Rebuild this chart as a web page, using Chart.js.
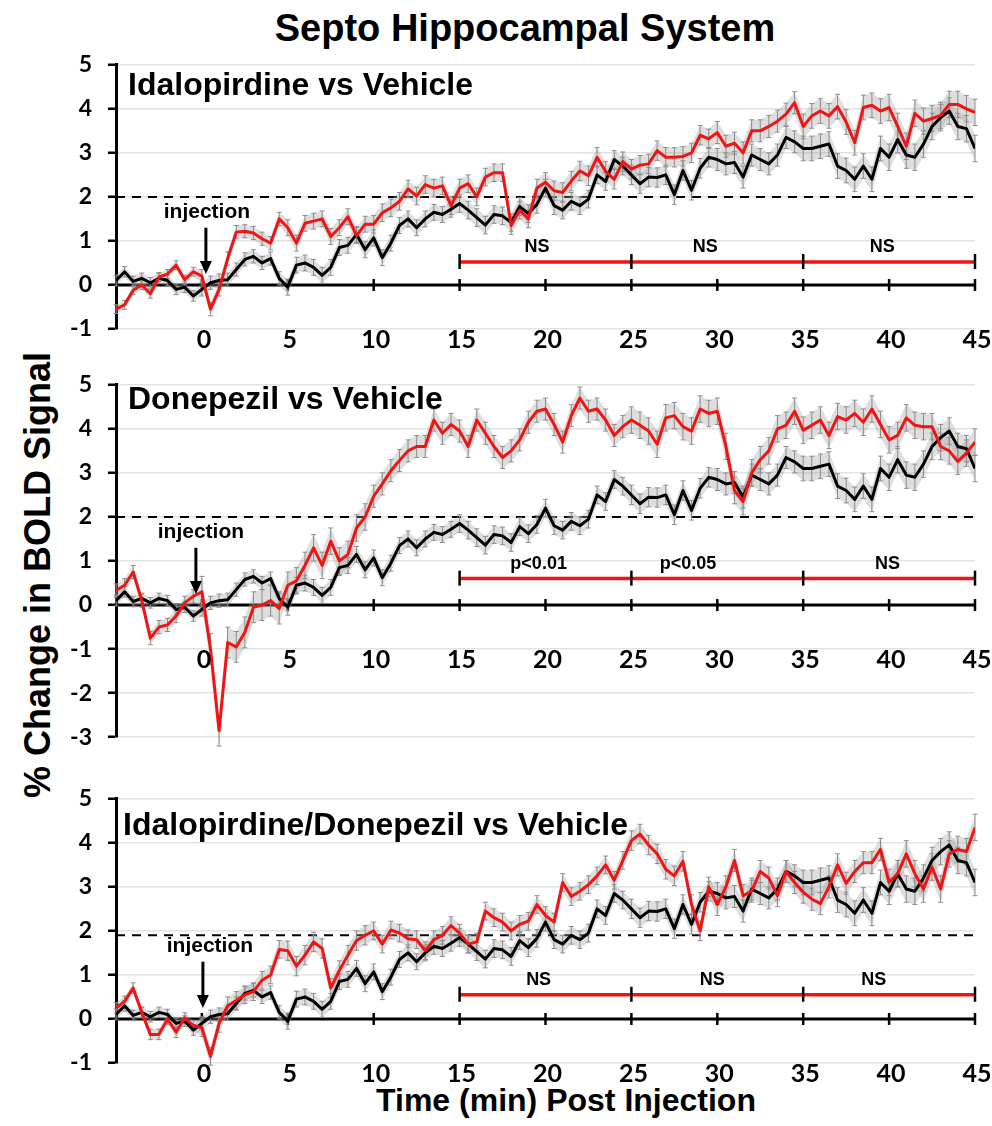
<!doctype html>
<html>
<head>
<meta charset="utf-8">
<title>Septo Hippocampal System</title>
<script src="https://cdn.jsdelivr.net/npm/chart.js@4"></script>
<style>
  html, body { margin: 0; padding: 0; background: #fff; }
  body { position: relative; width: 992px; height: 1126px; overflow: hidden;
         font-family: "Liberation Sans", Arial, sans-serif; color: #000; }
  .txt { position: absolute; font-weight: bold; white-space: nowrap; text-align: center; }
  #title { left: 225px; top: 7px; width: 600px; font-size: 38px; line-height: 42px; }
  #ytitle { left: -262px; top: 554px; width: 600px; font-size: 36px; line-height: 42px; transform: rotate(-90deg); }
  #xtitle { left: 316px; top: 1082px; width: 500px; font-size: 32px; line-height: 36px; }
  canvas { position: absolute; left: 0; }
</style>
</head>
<body>
<div class="txt" id="title">Septo Hippocampal System</div>
<div class="txt" id="ytitle">% Change in BOLD Signal</div>
<div class="txt" id="xtitle">Time (min) Post Injection</div>
<canvas id="p1" width="992" height="334" style="top:35px"></canvas>
<canvas id="p2" width="992" height="412" style="top:355px"></canvas>
<canvas id="p3" width="992" height="324" style="top:769px"></canvas>
<script>
// time (min) relative to injection, one sample every 30 s
const times = [
  -5, -4.5, -4, -3.5, -3, -2.5, -2, -1.5, -1, -0.5,
  0, 0.5, 1, 1.5, 2, 2.5, 3, 3.5, 4, 4.5,
  5, 5.5, 6, 6.5, 7, 7.5, 8, 8.5, 9, 9.5,
  10, 10.5, 11, 11.5, 12, 12.5, 13, 13.5, 14, 14.5,
  15, 15.5, 16, 16.5, 17, 17.5, 18, 18.5, 19, 19.5,
  20, 20.5, 21, 21.5, 22, 22.5, 23, 23.5, 24, 24.5,
  25, 25.5, 26, 26.5, 27, 27.5, 28, 28.5, 29, 29.5,
  30, 30.5, 31, 31.5, 32, 32.5, 33, 33.5, 34, 34.5,
  35, 35.5, 36, 36.5, 37, 37.5, 38, 38.5, 39, 39.5,
  40, 40.5, 41, 41.5, 42, 42.5, 43, 43.5, 44, 44.5, 45
];

// % BOLD change, vehicle (same curve in all three panels)
const vehicle = [
  0.1, 0.3, 0.08, 0.15, 0.05, 0.15, 0.1, -0.1, -0.05, -0.25,
  -0.1, 0.05, 0.1, 0.12, 0.35, 0.58, 0.65, 0.5, 0.6, 0.15,
  -0.05, 0.45, 0.5, 0.4, 0.22, 0.4, 0.85, 0.9, 1.15, 0.8,
  1.07, 0.62, 0.95, 1.35, 1.5, 1.3, 1.5, 1.65, 1.6, 1.72,
  1.85, 1.7, 1.53, 1.36, 1.6, 1.57, 1.42, 1.78, 1.62, 1.83,
  2.2, 1.8, 1.7, 1.9, 1.8, 1.95, 2.5, 2.35, 2.85, 2.7,
  2.5, 2.3, 2.45, 2.44, 2.5, 2.05, 2.6, 2.15, 2.65, 2.9,
  2.85, 2.75, 2.78, 2.45, 2.95, 2.85, 2.75, 2.95, 3.35, 3.25,
  3.1, 3.1, 3.15, 3.2, 2.7, 2.6, 2.4, 2.7, 2.4, 3.1,
  2.9, 3.3, 2.95, 2.9, 3.2, 3.6, 3.8, 3.95, 3.6, 3.55, 3.1
];

const idalopirdine = [
  -0.55, -0.45, -0.12, 0.0, -0.2, 0.18, 0.25, 0.45, 0.12, 0.3,
  0.2, -0.55, -0.1, 0.6, 1.2, 1.22, 1.18, 1.05, 0.95, 1.5,
  1.3, 0.95, 1.4, 1.45, 1.5, 1.1, 1.3, 1.55, 1.12, 1.38,
  1.38, 1.64, 1.75, 1.9, 2.18, 2.02, 2.28, 2.2, 2.25, 1.8,
  2.2, 2.3, 2.0, 2.45, 2.55, 2.55, 1.35, 1.7, 1.5, 2.2,
  2.33, 2.14, 2.1, 2.36, 2.59, 2.48, 2.9, 2.58, 2.4, 2.8,
  2.63, 2.72, 2.75, 3.05, 2.9, 2.9, 2.92, 3.0, 3.4, 3.32,
  3.46, 3.15, 3.22, 3.0, 3.5, 3.5, 3.6, 3.72, 3.88, 4.14,
  3.6, 3.84, 3.95, 3.84, 4.05, 3.7, 3.23, 4.03, 4.08, 3.95,
  4.03, 3.6, 3.15, 3.9, 3.72, 3.78, 3.85, 4.1, 4.1, 4.0, 3.92
];

const donepezil = [
  0.33, 0.45, 0.75, 0.1, -0.75, -0.5, -0.45, -0.25, 0.05, 0.2,
  0.3, -1.0, -2.85, -0.85, -0.95, -0.62, -0.05, 0.0, 0.1, -0.08,
  0.45, 0.55, 0.9, 1.3, 0.9, 1.45, 1.0, 1.15, 1.75, 2.0,
  2.47, 2.75, 3.05, 3.28, 3.5, 3.6, 3.6, 4.2, 3.9, 4.1,
  3.95, 3.6, 4.2, 3.9, 3.6, 3.35, 3.5, 3.75, 4.15, 4.4,
  4.45, 4.1, 3.7, 4.3, 4.7, 4.4, 4.45, 4.2, 3.85, 4.05,
  4.2, 4.08, 3.95, 3.65, 4.25, 4.3, 4.05, 3.95, 4.45, 4.35,
  4.4, 3.6, 2.6, 2.35, 3.0, 3.3, 3.5, 4.0, 4.08, 4.4,
  3.97, 4.08, 4.2, 3.85, 4.28, 4.2, 4.35, 4.15, 4.45, 4.1,
  3.75, 3.85, 4.25, 4.08, 4.05, 4.05, 3.6, 3.5, 3.26, 3.45, 3.7
];

const combination = [
  0.25, 0.4, 0.7, 0.15, -0.35, -0.35, 0.0, -0.3, 0.02, -0.15,
  -0.2, -0.85, -0.1, 0.3, 0.42, 0.55, 0.62, 0.88, 1.0, 1.58,
  1.55, 1.2, 1.45, 1.75, 1.6, 0.7, 1.1, 1.45, 1.78, 1.9,
  2.0, 1.7, 2.02, 1.95, 1.82, 1.8, 1.55, 1.8, 1.9, 2.12,
  1.95, 1.7, 1.75, 2.45, 2.3, 2.2, 2.0, 2.15, 2.22, 2.6,
  2.35, 2.2, 3.1, 2.78, 2.9, 3.05, 3.25, 3.5, 3.15, 3.6,
  4.05, 4.2, 3.95, 3.75, 3.4, 3.25, 3.58, 2.6, 2.0, 3.0,
  2.6, 3.0, 3.6, 2.8, 2.9, 3.35, 3.2, 2.8, 3.35, 3.1,
  2.88, 2.72, 2.62, 3.0, 3.5, 3.08, 3.35, 3.55, 3.55, 3.85,
  3.1, 3.3, 3.75, 3.3, 2.95, 3.45, 2.95, 3.75, 3.85, 3.8, 4.35
];

// SEM per 5-min block: -5..0, 0..5, ..., 40..45
const semVehicle = [0.12, 0.15, 0.18, 0.18, 0.2, 0.2, 0.22, 0.25, 0.28, 0.3];
const semIdalopirdine = [0.1, 0.15, 0.18, 0.2, 0.2, 0.22, 0.22, 0.25, 0.28, 0.3];
const semDonepezil = [0.15, 0.35, 0.3, 0.25, 0.25, 0.25, 0.3, 0.3, 0.3, 0.3];
const semCombination = [0.12, 0.2, 0.22, 0.2, 0.2, 0.2, 0.22, 0.25, 0.25, 0.3];

const xTickValues = [0, 5, 10, 15, 20, 25, 30, 35, 40, 45];
const blockEdges = [15, 25, 35, 45];
const statsIdalopirdine = ['NS', 'NS', 'NS'];
const statsDonepezil = ['p<0.01', 'p<0.05', 'NS'];
const statsCombination = ['NS', 'NS', 'NS'];

const RED = '#f01414';
const FONT = '"Liberation Sans", Arial, sans-serif';
const NUMFONT = 'Lato, "Liberation Sans", sans-serif';
Chart.defaults.font.family = FONT;

function semAt(sem, t) {
  return sem[Math.min(sem.length - 1, Math.floor((t + 5) / 5))];
}

const decor = {
  id: 'decor',
  beforeDatasetsDraw(chart, args, o) {
    const { ctx, chartArea: a, scales: { x, y } } = chart;
    ctx.save();
    // reference level
    const yd = y.getPixelForValue(o.threshold);
    ctx.strokeStyle = '#000';
    ctx.lineWidth = 2;
    ctx.setLineDash([9, 7]);
    ctx.beginPath(); ctx.moveTo(a.left, yd); ctx.lineTo(a.right, yd); ctx.stroke();
    ctx.setLineDash([]);
    // x axis at zero with cross ticks
    const y0 = y.getPixelForValue(0);
    ctx.lineWidth = 3;
    ctx.beginPath(); ctx.moveTo(a.left, y0); ctx.lineTo(a.right, y0); ctx.stroke();
    ctx.lineWidth = 2.5;
    for (const v of xTickValues) {
      const px = x.getPixelForValue(v);
      ctx.beginPath(); ctx.moveTo(px, y0 - 6); ctx.lineTo(px, y0 + 6); ctx.stroke();
    }
    // error bands + bars
    for (const ds of chart.data.datasets) {
      const upper = ds.data.map(p => [x.getPixelForValue(p.x), y.getPixelForValue(p.y + semAt(ds.sem, p.x))]);
      const lower = ds.data.map(p => [x.getPixelForValue(p.x), y.getPixelForValue(p.y - semAt(ds.sem, p.x))]);
      ctx.fillStyle = 'rgba(160,160,160,0.35)';
      ctx.beginPath();
      upper.forEach(([px, py], i) => i ? ctx.lineTo(px, py) : ctx.moveTo(px, py));
      lower.slice().reverse().forEach(([px, py]) => ctx.lineTo(px, py));
      ctx.closePath();
      ctx.fill();
      ctx.strokeStyle = '#8c8c8c';
      ctx.lineWidth = 1;
      ctx.beginPath();
      upper.forEach(([px, hi], i) => {
        const lo = lower[i][1];
        ctx.moveTo(px, hi); ctx.lineTo(px, lo);
        ctx.moveTo(px - 2.5, hi); ctx.lineTo(px + 2.5, hi);
        ctx.moveTo(px - 2.5, lo); ctx.lineTo(px + 2.5, lo);
      });
      ctx.stroke();
    }
    ctx.restore();
  },
  afterDatasetsDraw(chart, args, o) {
    const { ctx, chartArea: a, scales: { x, y } } = chart;
    ctx.save();
    // significance blocks
    const ys = y.getPixelForValue(o.sigLevel);
    ctx.strokeStyle = RED;
    ctx.lineWidth = 3.5;
    ctx.beginPath();
    ctx.moveTo(x.getPixelForValue(blockEdges[0]), ys);
    ctx.lineTo(x.getPixelForValue(blockEdges[blockEdges.length - 1]), ys);
    ctx.stroke();
    ctx.strokeStyle = '#000';
    ctx.lineWidth = 2.5;
    for (const v of blockEdges) {
      const px = x.getPixelForValue(v);
      ctx.beginPath(); ctx.moveTo(px, ys - 8); ctx.lineTo(px, ys + 7); ctx.stroke();
    }
    ctx.fillStyle = '#000';
    ctx.font = 'bold 18px ' + FONT;
    ctx.textAlign = 'center';
    ctx.textBaseline = 'middle';
    o.stats.forEach((s, i) => ctx.fillText(s, x.getPixelForValue(o.statsX[i]), ys - 15));
    // time tick labels
    const y0 = y.getPixelForValue(0);
    ctx.font = 'bold 25px ' + NUMFONT;
    for (const v of xTickValues) ctx.fillText(String(v), x.getPixelForValue(v) + 2, y0 + 55);
    // panel title
    ctx.textAlign = 'left';
    ctx.font = 'bold 32px ' + FONT;
    ctx.fillText(o.title, a.left + o.titleDx, a.top + o.titleDy);
    // injection marker
    const xi = x.getPixelForValue(0);
    ctx.textAlign = 'center';
    ctx.font = 'bold 21px ' + FONT;
    ctx.fillText('injection', xi + o.injDx, y.getPixelForValue(1.65));
    const ya = y.getPixelForValue(1.3), yb = y.getPixelForValue(0.25);
    const xa = xi + o.arrowDx;
    ctx.lineWidth = 3;
    ctx.beginPath(); ctx.moveTo(xa, ya); ctx.lineTo(xa, yb - 10); ctx.stroke();
    ctx.beginPath(); ctx.moveTo(xa - 6, yb - 13); ctx.lineTo(xa + 6, yb - 13); ctx.lineTo(xa, yb); ctx.closePath(); ctx.fill();
    ctx.restore();
  }
};

function makePanel(id, drug, semDrug, yMin, pad, opts) {
  const pts = arr => times.map((t, i) => ({ x: t, y: arr[i] }));
  return new Chart(document.getElementById(id), {
    type: 'line',
    data: {
      datasets: [
        { data: pts(drug), sem: semDrug, borderColor: RED, borderWidth: 3, order: 0 },
        { data: pts(vehicle), sem: semVehicle, borderColor: '#000', borderWidth: 3, order: 1 }
      ]
    },
    options: {
      responsive: false,
      animation: false,
      elements: { point: { radius: 0 }, line: { tension: 0, borderJoinStyle: 'round' } },
      layout: { padding: { left: 56, right: 17, top: pad[0], bottom: pad[1] } },
      scales: {
        x: { type: 'linear', min: -5, max: 45, display: false },
        y: {
          min: yMin, max: 5,
          afterFit(s) { s.width = 60; },
          ticks: { stepSize: 1, padding: 16, color: '#000', font: { family: NUMFONT, weight: 'bold', size: 23 } },
          grid: { color: '#e2e2e2', lineWidth: 1.5, tickColor: '#000', tickLength: 8, tickWidth: 2.5 },
          border: { display: true, color: '#000', width: 3 }
        }
      },
      plugins: { legend: { display: false }, tooltip: { enabled: false }, decor: opts }
    },
    plugins: [decor]
  });
}

makePanel('p1', idalopirdine, semIdalopirdine, -1, [15, 40], {
  title: 'Idalopirdine vs Vehicle', titleDx: 12, titleDy: 21,
  threshold: 2, sigLevel: 0.52, stats: statsIdalopirdine, statsX: [19.5, 29.3, 39.6],
  injDx: 5, arrowDx: 4
});
makePanel('p2', donepezil, semDonepezil, -3, [15, 15], {
  title: 'Donepezil vs Vehicle', titleDx: 12, titleDy: 15,
  threshold: 2, sigLevel: 0.6, stats: statsDonepezil, statsX: [19.6, 28.3, 39.9],
  injDx: -1, arrowDx: -6
});
makePanel('p3', combination, semCombination, -1, [15, 30], {
  title: 'Idalopirdine/Donepezil vs Vehicle', titleDx: 7, titleDy: 27,
  threshold: 1.9, sigLevel: 0.55, stats: statsCombination, statsX: [19.6, 29.7, 39.1],
  injDx: 8, arrowDx: 1
});
</script>
</body>
</html>
